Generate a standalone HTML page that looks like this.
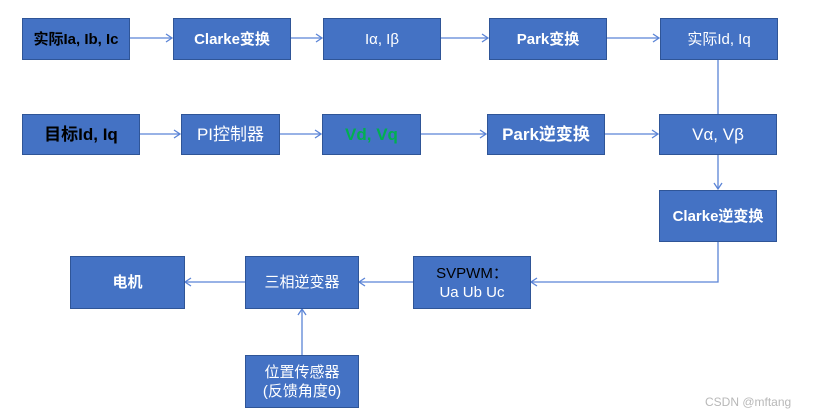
<!DOCTYPE html>
<html><head><meta charset="utf-8"><style>
html,body{margin:0;padding:0;background:#fff;}
body{width:818px;height:419px;position:relative;overflow:hidden;font-family:"Liberation Sans","Noto Sans CJK SC",sans-serif;}
.b{position:absolute;background:#4472C4;border:1px solid #2F5597;box-sizing:border-box;color:#fff;display:flex;align-items:center;justify-content:center;text-align:center;font-size:15px;line-height:19px;}
.bold{font-weight:bold;}
.blk{color:#000;}
svg{position:absolute;left:0;top:0;}
.wm{position:absolute;left:705px;top:395px;font-size:12px;color:#b8b8b8;}
</style></head><body>
<svg width="818" height="419">
<g stroke="#5B84D6" stroke-width="1.3" fill="none">
<line x1="129" y1="38" x2="172" y2="38"/><polyline points="166,34 172,38 166,42"/>
<line x1="290" y1="38" x2="322" y2="38"/><polyline points="316,34 322,38 316,42"/>
<line x1="440" y1="38" x2="488" y2="38"/><polyline points="482,34 488,38 482,42"/>
<line x1="606" y1="38" x2="659" y2="38"/><polyline points="653,34 659,38 653,42"/>
<line x1="139" y1="134" x2="180" y2="134"/><polyline points="174,130 180,134 174,138"/>
<line x1="279" y1="134" x2="321" y2="134"/><polyline points="315,130 321,134 315,138"/>
<line x1="420" y1="134" x2="486" y2="134"/><polyline points="480,130 486,134 480,138"/>
<line x1="604" y1="134" x2="658" y2="134"/><polyline points="652,130 658,134 652,138"/>
<line x1="718" y1="59" x2="718" y2="114"/>
<line x1="718" y1="154" x2="718" y2="189"/><polyline points="714,183 718,189 722,183"/>
<polyline points="718,241 718,282 531,282"/><polyline points="537,278 531,282 537,286"/>
<line x1="413" y1="282" x2="359" y2="282"/><polyline points="365,278 359,282 365,286"/>
<line x1="245" y1="282" x2="185" y2="282"/><polyline points="191,278 185,282 191,286"/>
<line x1="302" y1="355" x2="302" y2="309"/><polyline points="298,315 302,309 306,315"/>
</g></svg>
<div class="b bold blk" style="left:22px;top:18px;width:108px;height:42px;">实际Ia, Ib, Ic</div>
<div class="b bold" style="left:173px;top:18px;width:118px;height:42px;">Clarke变换</div>
<div class="b" style="left:323px;top:18px;width:118px;height:42px;">Iα, Iβ</div>
<div class="b bold" style="left:489px;top:18px;width:118px;height:42px;">Park变换</div>
<div class="b" style="left:660px;top:18px;width:118px;height:42px;">实际Id, Iq</div>
<div class="b bold blk" style="left:22px;top:114px;width:118px;height:41px;font-size:17px;">目标Id, Iq</div>
<div class="b" style="left:181px;top:114px;width:99px;height:41px;font-size:17px;">PI控制器</div>
<div class="b bold" style="left:322px;top:114px;width:99px;height:41px;font-size:17px;color:#00B050;">Vd, Vq</div>
<div class="b bold" style="left:487px;top:114px;width:118px;height:41px;font-size:17px;">Park逆变换</div>
<div class="b" style="left:659px;top:114px;width:118px;height:41px;font-size:17px;">Vα, Vβ</div>
<div class="b bold" style="left:659px;top:190px;width:118px;height:52px;">Clarke逆变换</div>
<div class="b bold" style="left:70px;top:256px;width:115px;height:53px;">电机</div>
<div class="b" style="left:245px;top:256px;width:114px;height:53px;">三相逆变器</div>
<div class="b" style="left:413px;top:256px;width:118px;height:53px;"><span><span style="color:#000">SVPWM：</span><br>Ua Ub Uc</span></div>
<div class="b" style="left:245px;top:355px;width:114px;height:53px;">位置传感器<br>(反馈角度θ)</div>
<div class="wm">CSDN @mftang</div>
</body></html>
